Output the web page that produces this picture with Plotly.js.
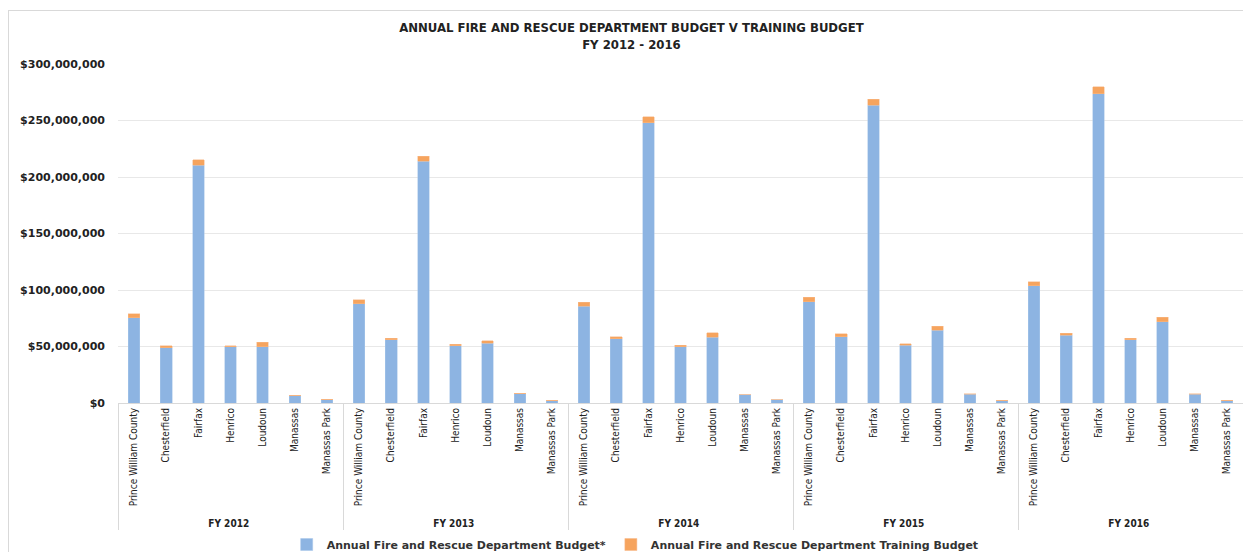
<!DOCTYPE html>
<html>
<head>
<meta charset="utf-8">
<script src="https://cdn.plot.ly/plotly-3.0.1.min.js"></script>
<style>
  html, body { margin: 0; padding: 0; background: #fff; overflow: hidden; }
  #frame { position: absolute; left: 8px; top: 10px; width: 1240px; height: 545px; border-left: 1px solid #d9d9d9; border-top: 1px solid #d9d9d9; pointer-events: none; }
  #chart { width: 1243px; height: 559px; }
</style>
</head>
<body>
<div id="chart"></div>
<div id="frame"></div>
<script>
const years = ['FY 2012', 'FY 2013', 'FY 2014', 'FY 2015', 'FY 2016'];
const counties = ['Prince William County', 'Chesterfield', 'Fairfax', 'Henrico', 'Loudoun', 'Manassas', 'Manassas Park'];

// Annual Fire and Rescue Department Budget* (USD), per year in county order
const budgetFY2012 = [75500000, 49000000, 210400000, 49600000, 49600000, 6500000, 3000000];
const budgetFY2013 = [87900000, 55800000, 213900000, 50700000, 52800000, 8300000, 2200000];
const budgetFY2014 = [85800000, 56900000, 248000000, 49600000, 58100000, 7100000, 2700000];
const budgetFY2015 = [89400000, 58700000, 263700000, 51000000, 64600000, 7700000, 2200000];
const budgetFY2016 = [103800000, 59900000, 273500000, 55800000, 71700000, 7700000, 2200000];

// Annual Fire and Rescue Department Training Budget (USD)
const trainingFY2012 = [3500000, 1700000, 4700000, 1100000, 4000000, 300000, 300000];
const trainingFY2013 = [3500000, 1700000, 4400000, 1200000, 2300000, 300000, 200000];
const trainingFY2014 = [3300000, 1800000, 5400000, 1400000, 4100000, 300000, 200000];
const trainingFY2015 = [4400000, 2400000, 5300000, 1500000, 3500000, 300000, 200000];
const trainingFY2016 = [3600000, 1800000, 6500000, 1400000, 4100000, 300000, 200000];

const seriesNames = ['Annual Fire and Rescue Department Budget*', 'Annual Fire and Rescue Department Training Budget'];

const budgetByYear = [budgetFY2012, budgetFY2013, budgetFY2014, budgetFY2015, budgetFY2016];
const trainingByYear = [trainingFY2012, trainingFY2013, trainingFY2014, trainingFY2015, trainingFY2016];

const outer = [], inner = [], budget = [], training = [];
years.forEach((y, i) => {
  counties.forEach((c, j) => {
    outer.push('<b>' + y + '</b>');
    inner.push(c);
    budget.push(budgetByYear[i][j]);
    training.push(trainingByYear[i][j]);
  });
});

const narrow = 'DejaVu Sans Condensed, Liberation Sans Narrow, Arial Narrow, sans-serif';
const wide = 'DejaVu Sans, Verdana, sans-serif';

const traces = [
  { type: 'bar', name: seriesNames[0], x: [outer, inner], y: budget, marker: { color: '#8db4e2', line: { color: '#a9c7ea', width: 0.5 } } },
  { type: 'bar', name: seriesNames[1], x: [outer, inner], y: training, marker: { color: '#f6a45e', line: { color: '#f8b98a', width: 0.5 } } }
];

const layout = {
  width: 1243, height: 559,
  margin: { l: 118, r: 0, t: 64, b: 156 },
  paper_bgcolor: '#ffffff', plot_bgcolor: '#ffffff',
  barmode: 'stack', bargap: 0.64,
  showlegend: true,
  title: {
    text: '<b>ANNUAL FIRE AND RESCUE DEPARTMENT BUDGET V TRAINING BUDGET<br>FY 2012 - 2016</b>',
    font: { family: narrow, size: 13, color: '#222' },
    x: 0.508, xanchor: 'center', y: 0.943, yanchor: 'middle'
  },
  xaxis: {
    type: 'multicategory',
    tickangle: -90,
    tickfont: { family: narrow, size: 10, color: '#222' },
    showline: true, linecolor: '#d9d9d9', linewidth: 1,
    ticks: '', showgrid: false,
    showdividers: true, dividercolor: '#d9d9d9', dividerwidth: 1
  },
  yaxis: {
    range: [0, 300000000],
    dtick: 50000000,
    tickprefix: '$', tickformat: ',.0f',
    tickfont: { family: wide, size: 11, color: '#222', weight: 'bold' },
    gridcolor: '#e8e8e8', gridwidth: 1,
    zeroline: false, showline: false, ticks: '',
    ticklabelstandoff: 12
  },
  legend: {
    orientation: 'h', xref: 'container', yref: 'container',
    x: 0.511, xanchor: 'center', y: 0, yanchor: 'bottom',
    font: { family: wide, size: 11, color: '#333', weight: 'bold' },
    traceorder: 'normal', itemwidth: 30
  }
};

Plotly.newPlot('chart', traces, layout, { displayModeBar: false, staticPlot: true });
</script>
</body>
</html>
